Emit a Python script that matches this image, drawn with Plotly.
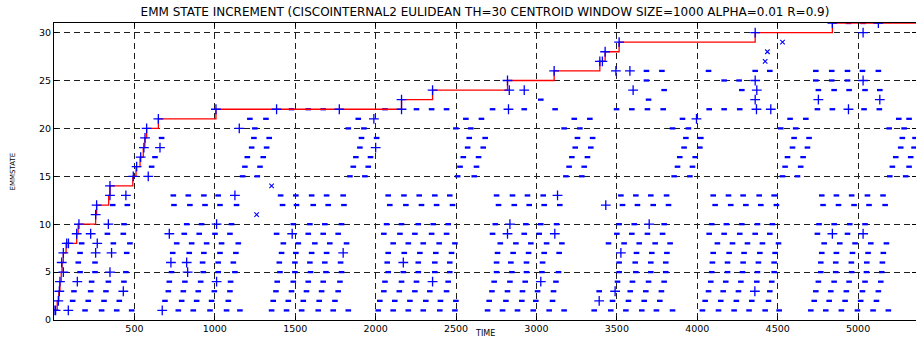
import plotly.graph_objects as go

TITLE = "EMM STATE INCREMENT (CISCOINTERNAL2 EULIDEAN TH=30 CENTROID WINDOW SIZE=1000 ALPHA=0.01 R=0.9)"
X_LABEL = "TIME"
Y_LABEL = "EMMSTATE"
X_MAX = 5360
Y_MAX = 31
X_TICKS = [500, 1000, 1500, 2000, 2500, 3000, 3500, 4000, 4500, 5000]
Y_TICKS = [0, 5, 10, 15, 20, 25, 30]

# time at which each new EMM state was created (red running-max step line)
NEW_STATE = list(range(1, 32))
NEW_T = [0, 20, 30, 37, 45, 50, 58, 75, 141, 150, 259, 265, 340, 348, 490, 510, 535,
         555, 565, 576, 649, 1007, 2161, 2354, 2820, 3110, 3394, 3427, 3514, 4360, 4840]

# '.' observations, one list per state
DOT_1 = [193, 296, 390, 483, 773, 866, 970, 1073, 1156, 1353, 1446, 1540, 1643, 1736, 1830, 2016, 2109, 2203, 2296, 2399, 2493, 2696, 2789, 2882, 2980, 3079, 3172, 3359, 3462, 3556, 3655, 3746, 3846, 4032, 4132, 4229, 4322, 4422, 4509, 4706, 4799, 4896, 4996, 5093, 5188]
DOT_2 = [116, 213, 311, 406, 690, 794, 887, 980, 1084, 1363, 1457, 1550, 1649, 1747, 2026, 2119, 2213, 2312, 2403, 2499, 2706, 2810, 2909, 2996, 3100, 3473, 3572, 3670, 3767, 4049, 4146, 4243, 4339, 4443, 4727, 4820, 4919, 5016, 5114]
DOT_3 = [124, 228, 323, 711, 804, 897, 997, 1094, 1380, 1477, 1570, 1664, 1767, 2051, 2147, 2244, 2337, 2441, 2723, 2820, 2913, 3007, 3106, 3390, 3583, 3680, 3777, 4070, 4161, 4256, 4451, 4737, 4830, 4927, 5027, 5126]
DOT_4 = [234, 338, 435, 717, 814, 912, 1098, 1388, 1488, 1581, 1674, 1778, 2058, 2161, 2254, 2451, 2737, 2835, 2930, 3121, 3504, 3597, 3697, 3794, 4084, 4177, 4271, 4370, 4463, 4753, 4851, 4944, 5043, 5141]
DOT_5 = [162, 255, 447, 731, 928, 1021, 1125, 1405, 1498, 1595, 1691, 1788, 2078, 2172, 2265, 2368, 2461, 2752, 2847, 2938, 3034, 3137, 3514, 3618, 3711, 3804, 4090, 4188, 4281, 4374, 4478, 4768, 4861, 4960, 5052, 5147]
DOT_6 = [151, 255, 924, 1021, 1115, 1401, 1498, 1591, 1684, 1782, 2072, 2265, 2368, 2461, 2752, 2841, 2938, 3038, 3514, 3614, 3711, 3804, 4094, 4188, 4285, 4380, 4478, 4768, 4861, 4958, 5054, 5151]
DOT_7 = [162, 452, 738, 841, 932, 1032, 1131, 1415, 1504, 1602, 1695, 2078, 2178, 2275, 2374, 2472, 2758, 2855, 2951, 3048, 3141, 3622, 3717, 3811, 4099, 4198, 4291, 4389, 4484, 4774, 4865, 4965, 5062, 5157]
DOT_8 = [172, 369, 472, 763, 856, 949, 1042, 1146, 1426, 1519, 1622, 1715, 1819, 2109, 2203, 2296, 2395, 2493, 2775, 2872, 2965, 3063, 3158, 3448, 3545, 3639, 3738, 3831, 4125, 4219, 4312, 4405, 4505, 4789, 4886, 4981, 5079, 5176]
DOT_9 = [332, 431, 810, 903, 1001, 1094, 1384, 1581, 1674, 1767, 2051, 2151, 2244, 2348, 2441, 2727, 2924, 3017, 3500, 3593, 3690, 3784, 4074, 4167, 4264, 4360, 4451, 4747, 4934]
DOT_10 = [435, 825, 918, 1104, 1488, 1591, 1684, 1788, 2068, 2161, 2265, 2358, 2451, 2744, 2934, 3027, 3125, 3514, 3608, 3794, 4090, 4181, 4277, 4374, 4467, 4757, 4851, 4948, 5043]
DOT_12 = [365, 456, 746, 845, 939, 1032, 1135, 1421, 1508, 1612, 1705, 1803, 2088, 2188, 2285, 2379, 2478, 2764, 2862, 2955, 3048, 3145, 3535, 3628, 3726, 3821, 4111, 4208, 4302, 4395, 4492, 4782, 4878, 4975, 5068, 5168]
DOT_13 = [742, 835, 932, 1021, 1409, 1504, 1602, 1695, 1798, 2078, 2176, 2271, 2368, 2461, 2752, 2851, 2944, 3042, 3525, 3618, 3711, 3809, 4099, 4194, 4285, 4385, 4478, 4774, 4865, 4960, 5058, 5155]
DOT_15 = [1173, 1264, 1840, 1933, 2510, 2613, 3183, 3282, 3856, 3954, 4530, 4623, 5197, 5296]
DOT_16 = [607, 1187, 1281, 1861, 1954, 2525, 2627, 3203, 3297, 3877, 3970, 4546, 4643, 5213, 5317]
DOT_17 = [628, 1202, 1301, 1877, 1968, 2545, 2640, 3220, 3317, 3891, 3987, 4561, 4658, 5234, 5327]
DOT_18 = [1229, 1322, 1902, 2572, 2669, 3241, 3338, 3918, 4016, 4592, 4685, 5265, 5348]
DOT_19 = [669, 1243, 1338, 1912, 2006, 2582, 2681, 3255, 3349, 3929, 4022, 4602, 4695, 5275, 5354]
DOT_20 = [1249, 1830, 1927, 2499, 2592, 3172, 3270, 3846, 3945, 4519, 4612, 5193, 5286]
DOT_21 = [1218, 1318, 1892, 2561, 2658, 3235, 3332, 3908, 4577, 4675, 5253, 5317]
DOT_22 = [1477, 1581, 1674, 2058, 2254, 2348, 2441, 2727, 2924, 3116, 3498, 3593, 3690, 3788, 4074, 4167, 4264, 4747, 4840, 5037, 5132]
DOT_23 = [3027, 3697]
DOT_24 = [3794, 4277, 4753, 4851, 4944, 5043, 5135]
DOT_25 = [3684, 4167, 4260, 4737, 4836, 4934]
DOT_26 = [3684, 3780, 4070, 4360, 4451, 4737, 4836, 4934, 5027, 5126]
DOT_31 = [4940, 5031]

# '+' observations, one list per state
PLUS_1 = [0, 10, 89, 673]
PLUS_2 = [27, 3390]
PLUS_3 = [33, 431, 3489, 4358]
PLUS_4 = [37, 145, 1011, 2354, 3027]
PLUS_5 = [58, 348, 831]
PLUS_6 = [48, 727, 825, 2172]
PLUS_7 = [58, 259, 358, 1798, 3525]
PLUS_8 = [79, 90, 269]
PLUS_9 = [141, 228, 717, 1481, 2820, 3114, 4840, 5031]
PLUS_10 = [155, 338, 1011, 2835, 3701]
PLUS_11 = [259]
PLUS_12 = [265, 3431]
PLUS_13 = [348, 447, 1125, 3131]
PLUS_14 = [348]
PLUS_15 = [493, 586]
PLUS_16 = [514]
PLUS_17 = [539]
PLUS_18 = [559, 659, 2000]
PLUS_19 = [566]
PLUS_20 = [576, 1152]
PLUS_21 = [649, 1989, 3995]
PLUS_22 = [1007, 1384, 1774, 2161, 2826, 4368, 4457, 4940]
PLUS_23 = [2161, 4360, 4753, 5135]
PLUS_24 = [2354, 2831, 2924, 3601, 4370]
PLUS_25 = [2820, 4360, 5031]
PLUS_26 = [3110, 3494, 3581]
PLUS_27 = [3394, 3410]
PLUS_28 = [3427]
PLUS_29 = [3514]
PLUS_30 = [4360, 5031]
PLUS_31 = [4840, 5126]

# 'x' observations, one list per state
CROSS_11 = [1260]
CROSS_14 = [1353]
CROSS_27 = [4422]
CROSS_28 = [4436]
CROSS_29 = [4530]

DOT_ROWS = [(1, DOT_1), (2, DOT_2), (3, DOT_3), (4, DOT_4), (5, DOT_5), (6, DOT_6), (7, DOT_7),
            (8, DOT_8), (9, DOT_9), (10, DOT_10), (12, DOT_12), (13, DOT_13), (15, DOT_15),
            (16, DOT_16), (17, DOT_17), (18, DOT_18), (19, DOT_19), (20, DOT_20), (21, DOT_21),
            (22, DOT_22), (23, DOT_23), (24, DOT_24), (25, DOT_25), (26, DOT_26), (31, DOT_31)]
PLUS_ROWS = [(1, PLUS_1), (2, PLUS_2), (3, PLUS_3), (4, PLUS_4), (5, PLUS_5), (6, PLUS_6),
             (7, PLUS_7), (8, PLUS_8), (9, PLUS_9), (10, PLUS_10), (11, PLUS_11), (12, PLUS_12),
             (13, PLUS_13), (14, PLUS_14), (15, PLUS_15), (16, PLUS_16), (17, PLUS_17),
             (18, PLUS_18), (19, PLUS_19), (20, PLUS_20), (21, PLUS_21), (22, PLUS_22),
             (23, PLUS_23), (24, PLUS_24), (25, PLUS_25), (26, PLUS_26), (27, PLUS_27),
             (28, PLUS_28), (29, PLUS_29), (30, PLUS_30), (31, PLUS_31)]
CROSS_ROWS = [(11, CROSS_11), (14, CROSS_14), (27, CROSS_27), (28, CROSS_28), (29, CROSS_29)]


def flatten(rows):
    xs, ys = [], []
    for s, ts in rows:
        xs.extend(ts)
        ys.extend([s] * len(ts))
    return xs, ys


BLUE = "#0000ff"
fig = go.Figure()

dx, dy = flatten(DOT_ROWS)
fig.add_trace(go.Scatter(x=dx, y=dy, mode="markers", hoverinfo="skip",
                         marker=dict(symbol="line-ew", size=4, color=BLUE,
                                     line=dict(color=BLUE, width=2.3))))
fig.add_trace(go.Scatter(x=NEW_T + [X_MAX], y=NEW_STATE + [NEW_STATE[-1]], mode="lines",
                         hoverinfo="skip",
                         line=dict(color="#ff0000", width=1.3, shape="hv")))
px_, py_ = flatten(PLUS_ROWS)
fig.add_trace(go.Scatter(x=px_, y=py_, mode="markers", hoverinfo="skip",
                         marker=dict(symbol="cross-thin", size=7, color=BLUE,
                                     line=dict(color=BLUE, width=1.3))))
cx, cy = flatten(CROSS_ROWS)
fig.add_trace(go.Scatter(x=cx, y=cy, mode="markers", hoverinfo="skip",
                         marker=dict(symbol="x-thin", size=4.5, color=BLUE,
                                     line=dict(color=BLUE, width=1.1))))

axis_common = dict(showline=True, linecolor="black", linewidth=1, mirror="ticks",
                   ticks="inside", ticklen=4, tickcolor="black",
                   showgrid=True, gridcolor="rgb(30,30,30)", gridwidth=1, griddash="6px,4px",
                   zeroline=False,
                   tickfont=dict(family="DejaVu Sans", size=9.5, color="black"))

fig.update_layout(
    width=916, height=338,
    margin=dict(l=54, r=0, t=23, b=18),
    paper_bgcolor="white", plot_bgcolor="white",
    showlegend=False,
    title=dict(text=TITLE, x=0.5, xref="paper", xanchor="center",
               y=1 - 12 / 338, yref="container", yanchor="middle",
               font=dict(family="DejaVu Sans", size=12, color="black")),
    xaxis=dict(range=[0, X_MAX], tickvals=X_TICKS, **axis_common),
    yaxis=dict(range=[0, Y_MAX], tickvals=Y_TICKS, **axis_common),
    annotations=[
        dict(text=X_LABEL, xref="paper", yref="paper", x=0.5, y=-13 / 297,
             xanchor="center", yanchor="middle", showarrow=False,
             font=dict(family="DejaVu Sans", size=8, color="black")),
        dict(text=Y_LABEL, xref="paper", yref="paper", x=-42 / 862, y=0.5,
             xanchor="center", yanchor="middle", showarrow=False, textangle=-90,
             font=dict(family="DejaVu Sans", size=7, color="black")),
    ],
)

fig.write_html("out.html", config={"displayModeBar": False},
               post_script="document.body.style.margin='0';document.body.style.overflow='hidden';")
